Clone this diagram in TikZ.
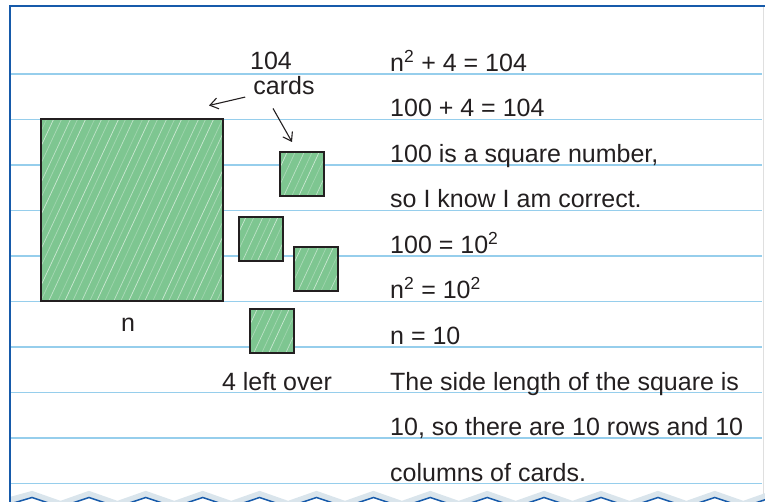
\documentclass[tikz,border=0pt]{standalone}
\usepackage{fontspec}
\setmainfont{Liberation Sans}
\usetikzlibrary{arrows.meta, positioning}
\definecolor{cardgreen}{RGB}{126,198,145}
\definecolor{ruleblue}{RGB}{150,206,236}
\definecolor{frameblue}{RGB}{22,90,170}
\definecolor{wavegray}{RGB}{218,229,236}
\definecolor{inkgray}{RGB}{35,31,32}

\begin{document}
\begin{tikzpicture}[x=1pt, y=-1pt,
  every node/.style={font=\fontsize{25}{30}\selectfont, text=inkgray, inner sep=0pt},
  ruled/.style={ruleblue, line width=1.3pt},
  card/.style={draw=inkgray, line width=2pt, fill=cardgreen,
    path picture={
      \foreach \i/\o in {-200/.5,-191/.3,-184/.6,-176/.25,-168/.5,-161/.35,-152/.6,-145/.3,
                          -137/.5,-128/.25,-121/.6,-113/.35,-104/.5,-97/.3,-89/.6,-80/.25,
                          -73/.5,-65/.35,-56/.6,-49/.3,-41/.5,-32/.25,-25/.6,-17/.35,
                          -8/.5,0/.3,7/.6,15/.25,24/.5,31/.35,39/.6,48/.3,55/.5,63/.25,
                          72/.6,79/.35,87/.5,96/.3,103/.6,111/.25,120/.5,127/.35,135/.6,
                          144/.3,151/.5,159/.25,168/.6,175/.35,183/.5,192/.3,200/.6}
        \draw[white, opacity=\o, line width=.7pt]
          ([xshift=\i pt]path picture bounding box.center) ++(-70,150) -- ++(140,-300);
    }},
  sum/.style={anchor=base west},
  >={Straight Barb[length=8pt,width=11pt]}]

  \useasboundingbox (0,0) rectangle (765,502);

  % Ruled paper
  \foreach \k in {0,...,9}
    \draw[ruled] (10,74+45.5*\k) -- (762,74+45.5*\k);
  \draw[gray!25, line width=1pt] (763,6) -- (763,502);

  % Wavy bottom edge
  \draw[wavegray, line width=6pt, yshift=3pt] (10,503)
    \foreach \x in {0,...,13} { -- (32+56.9*\x,497) -- (60.5+56.9*\x,507) };
  \draw[frameblue, line width=1.5pt] (10,504)
    \foreach \x in {0,...,13} { -- (32+56.9*\x,497.5) -- (60.5+56.9*\x,507) };

  % Frame
  \draw[frameblue, line width=2pt] (10,502) -- (10,6) -- (765,6);

  % Cards
  \node (big) [card, minimum size=182pt] at (132,210.5) {};
  \node (card1) [card, minimum size=44pt] at (302,174) {};
  \node (card2) [card, minimum size=44pt] at (260.5,239.5) {};
  \node (card3) [card, minimum size=44pt] at (316,269.5) {};
  \node (card4) [card, minimum size=44pt] at (272,331) {};

  % Labels
  \node (total) [anchor=base] at (271,70) {104};
  \node (cards) [anchor=base] at (284,95) {cards};
  \node (side) [anchor=base] at (128,331) {n};
  \node (rest) [anchor=base] at (277,390) {4 left over};

  % Arrows
  \draw[->, line width=1.1pt, inkgray] ([xshift=-8pt,yshift=-11pt]cards.west) -- ([xshift=-15pt,yshift=13pt]big.north east);
  \draw[->, line width=1.1pt, inkgray] ([xshift=-11pt,yshift=-13pt]cards.south) -- ([xshift=-10pt,yshift=9pt]card1.north);

  % Working
  \node (eq1) [sum] at (390,71.5) {n\textsuperscript{2} + 4 = 104};
  \node (eq2) [below=45.5pt of eq1.base west, sum] {100 + 4 = 104};
  \node (eq3) [below=45.5pt of eq2.base west, sum] {100 is a square number,};
  \node (eq4) [below=45.5pt of eq3.base west, sum] {so I know I am correct.};
  \node (eq5) [below=45.5pt of eq4.base west, sum] {100 = 10\textsuperscript{2}};
  \node (eq6) [below=45.5pt of eq5.base west, sum] {n\textsuperscript{2} = 10\textsuperscript{2}};
  \node (eq7) [below=45.5pt of eq6.base west, sum] {n = 10};
  \node (eq8) [below=45.5pt of eq7.base west, sum] {The side length of the square is};
  \node (eq9) [below=45.5pt of eq8.base west, sum] {10, so there are 10 rows and 10};
  \node (eq10) [below=45.5pt of eq9.base west, sum] {columns of cards.};
\end{tikzpicture}
\end{document}
